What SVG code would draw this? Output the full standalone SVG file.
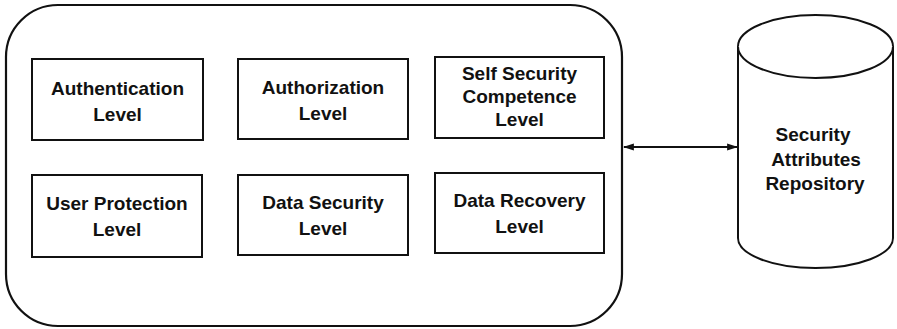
<svg xmlns="http://www.w3.org/2000/svg" width="897" height="329" viewBox="0 0 897 329">
  <style>
    .frame { fill: #fff; stroke: #111; stroke-width: 2.2; }
    .box { fill: #fff; stroke: #111; stroke-width: 2; }
    .label { font-family: "Liberation Sans", Arial, sans-serif; font-weight: bold; font-size: 19px; fill: #111; text-anchor: middle; }
    .link { stroke: #111; stroke-width: 2.2; fill: none; }
  </style>
  <defs>
    <marker id="head" viewBox="0 0 10 10" refX="9" refY="5" markerWidth="5" markerHeight="4" orient="auto-start-reverse" markerUnits="strokeWidth" preserveAspectRatio="none">
      <path d="M0,1 L10,5 L0,9 Z" fill="#111"/>
    </marker>
  </defs>
  <rect width="897" height="329" fill="#fff"/>

  <!-- container of security levels -->
  <g id="levels">
    <rect class="frame" x="6" y="5" width="616" height="321" rx="52" ry="52"/>
  </g>

  <g id="authentication">
    <rect class="box" x="32" y="59" width="171" height="81"/>
    <text class="label" x="117.5" y="94.5">Authentication</text>
    <text class="label" x="117.5" y="120.5">Level</text>
  </g>
  <g id="authorization">
    <rect class="box" x="238" y="59" width="170" height="80"/>
    <text class="label" x="323" y="94">Authorization</text>
    <text class="label" x="323" y="120">Level</text>
  </g>
  <g id="self-security">
    <rect class="box" x="435" y="57" width="169" height="81"/>
    <text class="label" x="519.5" y="80">Self Security</text>
    <text class="label" x="519.5" y="102.5">Competence</text>
    <text class="label" x="519.5" y="125.5">Level</text>
  </g>
  <g id="user-protection">
    <rect class="box" x="32" y="175" width="170" height="82"/>
    <text class="label" x="117" y="210">User Protection</text>
    <text class="label" x="117" y="236">Level</text>
  </g>
  <g id="data-security">
    <rect class="box" x="238" y="175" width="170" height="80"/>
    <text class="label" x="323" y="209">Data Security</text>
    <text class="label" x="323" y="235">Level</text>
  </g>
  <g id="data-recovery">
    <rect class="box" x="435" y="173" width="169" height="80"/>
    <text class="label" x="519.5" y="207">Data Recovery</text>
    <text class="label" x="519.5" y="233">Level</text>
  </g>

  <!-- repository cylinder -->
  <g id="repository">
    <path class="box" d="M738,46.5 L738,238 A77.5,30 0 0 0 893,238 L893,46.5 A77.5,31.5 0 0 0 738,46.5 Z"/>
    <path class="box" d="M738,46.5 A77.5,31.5 0 0 0 893,46.5" fill="none"/>
    <text class="label" x="813" y="141">Security</text>
    <text class="label" x="816" y="166">Attributes</text>
    <text class="label" x="815" y="190">Repository</text>
  </g>

  <g id="connectors">
    <line class="link" x1="624" y1="147" x2="737" y2="147" marker-start="url(#head)" marker-end="url(#head)"/>
  </g>
</svg>
